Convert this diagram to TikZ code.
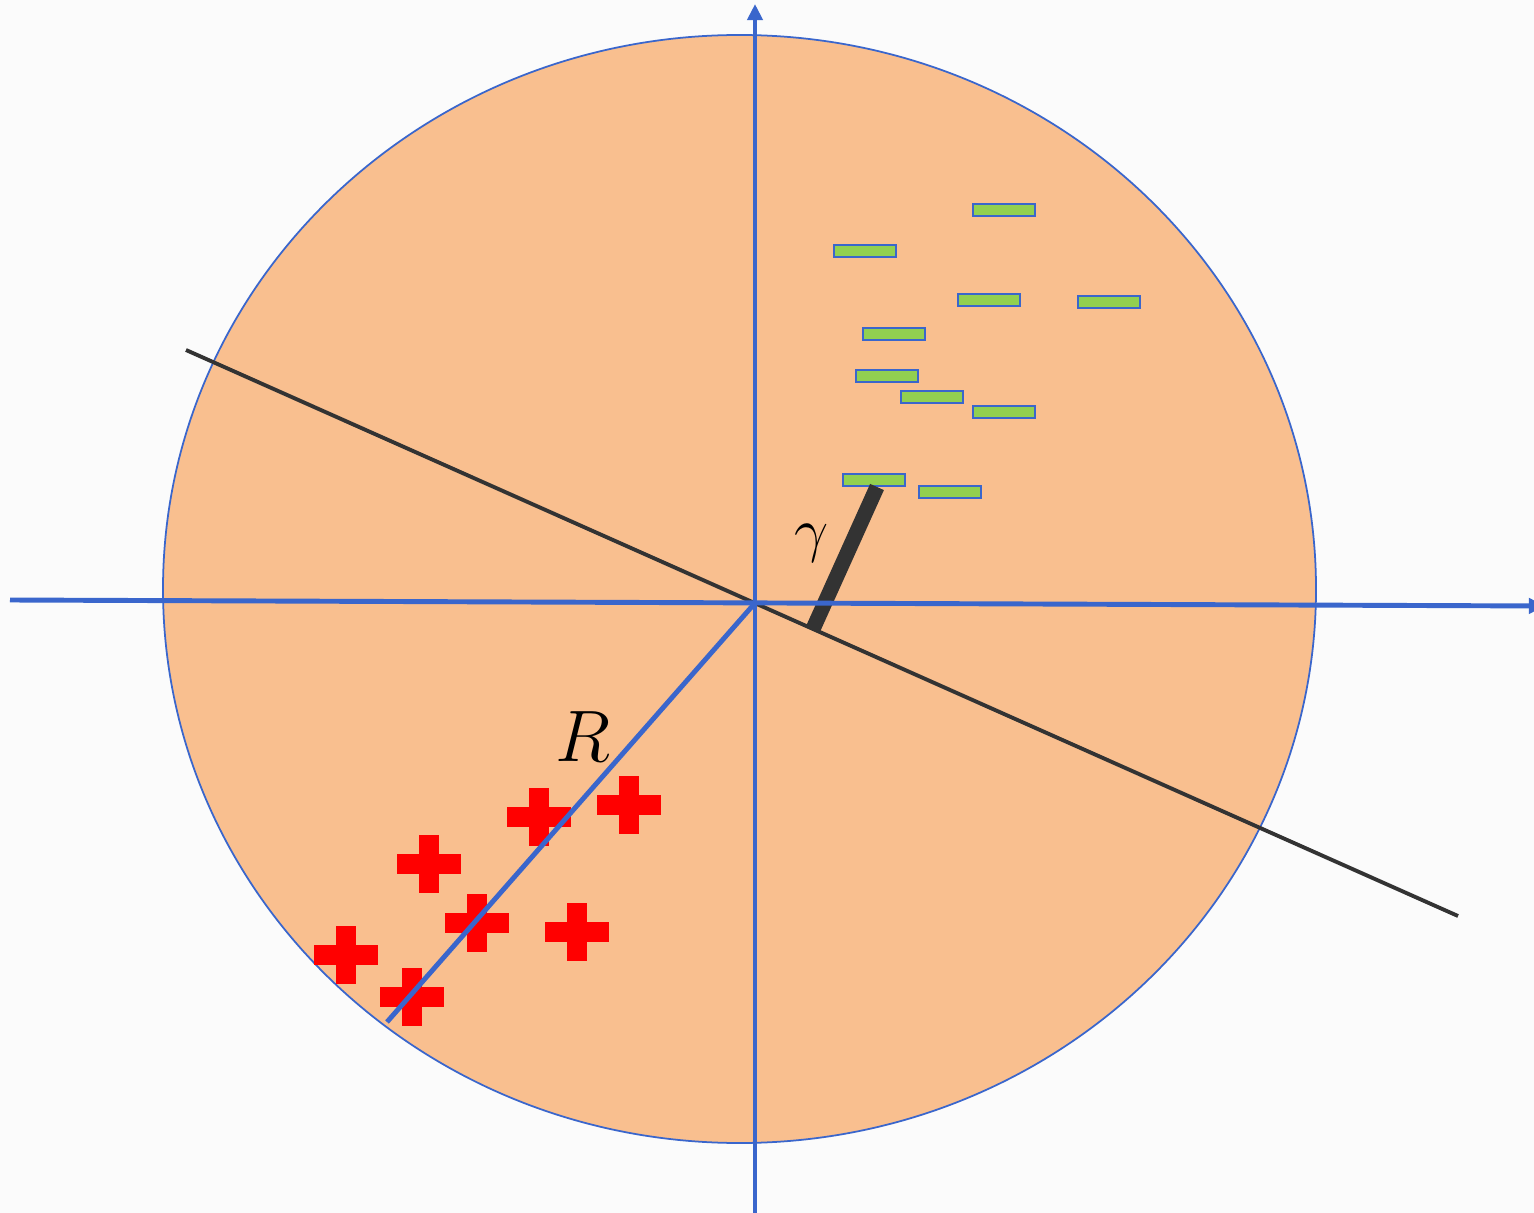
\documentclass[tikz,border=0pt]{standalone}
\usetikzlibrary{arrows.meta}
\definecolor{disk}{HTML}{F9BF8F}
\definecolor{axisblue}{HTML}{3A66CC}
\definecolor{bargreen}{HTML}{92D050}
\definecolor{darkline}{HTML}{333333}
\tikzset{
  redplus/.pic={
    \fill[red] (-32,-10) rectangle (32,10);
    \fill[red] (-10,-29) rectangle (10,29);
  }
}

\begin{document}
\begin{tikzpicture}[x=0.01cm, y=-0.01cm,
  axis/.style={axisblue, line width=1.4pt, -{Triangle[length=4.6pt, width=4.3pt]}},
  radius line/.style={axisblue, line width=1.4pt},
  sepline/.style={darkline, line width=1.1pt},
  marginbar/.style={darkline, line width=4.3pt},
  negbar/.style={draw=axisblue, fill=bargreen, line width=0.6pt, minimum width=0.62cm, minimum height=0.12cm, inner sep=0pt}]
\fill[gray!3] (0,0) rectangle (1534,1213);
\useasboundingbox (0,0) rectangle (1534,1213);
% disk
\draw[axisblue, line width=0.5pt, fill=disk] (739.5,589) ellipse [x radius=576.5, y radius=554];
\coordinate (O) at (755,603);
\coordinate (sepA) at (186,350);
\coordinate (sepB) at (1458,916);
\coordinate (xl) at (10,600);
\coordinate (xr) at (1545,606);
\coordinate (yb) at (755,1213);
\coordinate (yt) at (755,4);
\coordinate (rim) at (387,1022);
\coordinate (gA) at (813,629);
\coordinate (gB) at (877,487);
% separating line
\draw[sepline] (sepA) -- (sepB);
% positive points
\pic (p1) at (539,817) {redplus};
\pic (p2) at (629,805) {redplus};
\pic (p3) at (429,864) {redplus};
\pic (p4) at (477,923) {redplus};
\pic (p5) at (577,932) {redplus};
\pic (p6) at (346,955) {redplus};
\pic (p7) at (412,997) {redplus};
% negative points
\node[negbar] (n1) at (1004,210) {};
\node[negbar] (n2) at (865,251) {};
\node[negbar] (n3) at (989,300) {};
\node[negbar] (n4) at (1109,302) {};
\node[negbar] (n5) at (894,334) {};
\node[negbar] (n6) at (887,376) {};
\node[negbar] (n7) at (932,397) {};
\node[negbar] (n8) at (1004,412) {};
\node[negbar] (n9) at (874,480) {};
\node[negbar] (n10) at (950,492) {};
% margin
\draw[marginbar] (gA) -- (gB);
% axes
\draw[axis] (xl) -- (xr);
\draw[axis] (yb) -- (yt);
\draw[radius line] (O) -- (rim);
\node[font=\fontsize{16}{18}\selectfont] (gam) at (812,543) {$\gamma$};
\node[font=\fontsize{20}{24}\selectfont] (rad) at (583,737) {$R$};
\end{tikzpicture}
\end{document}
